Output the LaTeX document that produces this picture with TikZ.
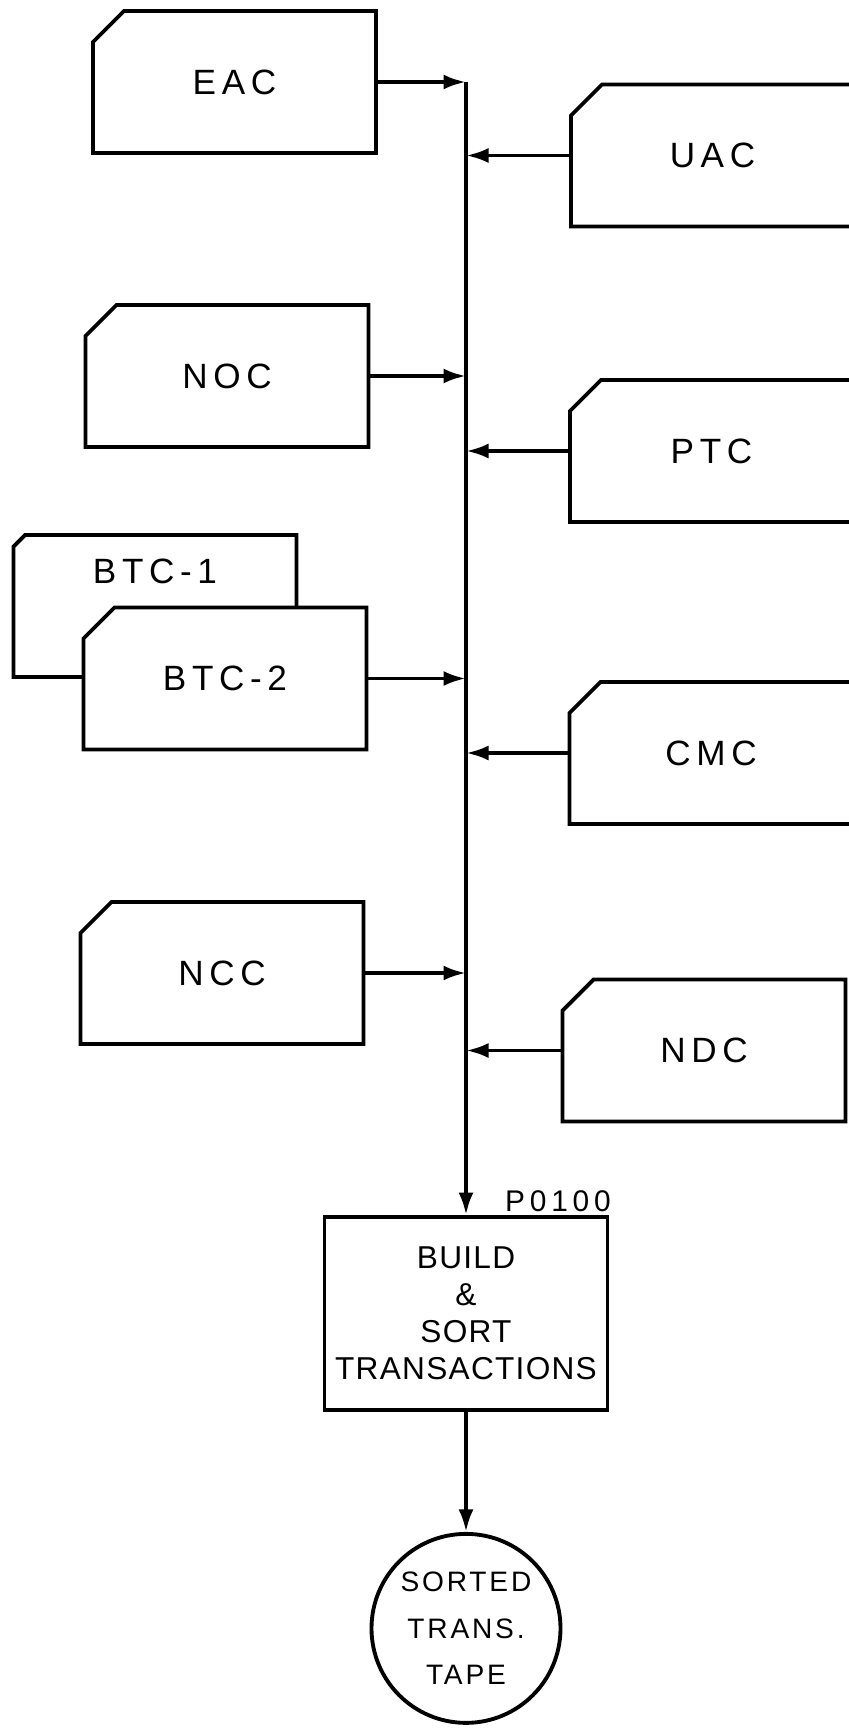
\documentclass[tikz,border=0pt]{standalone}
\usepackage{fontspec}
\usepackage{tikz}
\usetikzlibrary{arrows.meta,positioning,shapes.misc}
\newfontfamily\cardfont[LetterSpace=16]{Liberation Sans}
\newfontfamily\procfont[LetterSpace=4]{Liberation Sans}
\newfontfamily\tapefont[LetterSpace=10]{Liberation Sans}

\begin{document}
\begin{tikzpicture}[>=Latex,line width=2.2pt]

\tikzset{
card/.style={
    draw,
    fill=white,
    chamfered rectangle,
    chamfered rectangle corners=north west,
    chamfered rectangle xsep=0.31cm,
    chamfered rectangle ysep=0.31cm,
    minimum width=5.66cm,
    minimum height=2.84cm,
    font=\cardfont\fontsize{20}{24}\selectfont
},
proc/.style={
    draw,
    minimum width=5.66cm,
    minimum height=3.86cm,
    align=center,
    font=\procfont\fontsize{18}{21}\selectfont
},
tape/.style={
    draw,
    circle,
    minimum size=3.78cm,
    inner sep=0pt,
    align=center,
    font=\tapefont\fontsize{16}{26.5}\selectfont
},
a/.style={-{Latex[length=4.5mm,width=3mm]}}
}

\useasboundingbox (0,0) rectangle (16.98,-34.7);

\node[card] (eac) at (4.69,-1.64) {EAC};
\node[card] (uac) at (14.25,-3.11) {UAC};
\node[card] (noc) at (4.54,-7.52) {NOC};
\node[card] (ptc) at (14.23,-9.02) {PTC};
\node[card,label={[anchor=center,yshift=-0.76cm,
    font=\cardfont\fontsize{20}{24}\selectfont]north:BTC-1}]
    (btc1) at (3.10,-12.12) {};
\node[card] (btc2) at (4.50,-13.57) {BTC-2};
\node[card] (cmc) at (14.22,-15.06) {CMC};
\node[card] (ncc) at (4.44,-19.46) {NCC};
\node[card] (ndc) at (14.08,-21.01) {NDC};

\node[proc,label={[anchor=south east,inner sep=1pt,xshift=0.1cm,
    font=\cardfont\fontsize{17}{20}\selectfont]north east:P0100}]
    (build) at (9.32,-26.27) {BUILD\\\&\\SORT\\TRANSACTIONS};
\node[tape,below=2.4cm of build] (sorted) {SORTED\\TRANS.\\TAPE};

\coordinate (bus) at (build.north |- eac.east);

\draw[a] (bus) -- (build.north);
\draw[a] (build.south) -- (sorted.north);

\draw[a] (eac.east) -- (eac.east -| bus);
\draw[a] (noc.east) -- (noc.east -| bus);
\draw[a] (btc2.east) -- (btc2.east -| bus);
\draw[a] (ncc.east) -- (ncc.east -| bus);

\draw[a] (uac.west) -- (uac.west -| bus);
\draw[a] (ptc.west) -- (ptc.west -| bus);
\draw[a] (cmc.west) -- (cmc.west -| bus);
\draw[a] (ndc.west) -- (ndc.west -| bus);

\end{tikzpicture}
\end{document}
